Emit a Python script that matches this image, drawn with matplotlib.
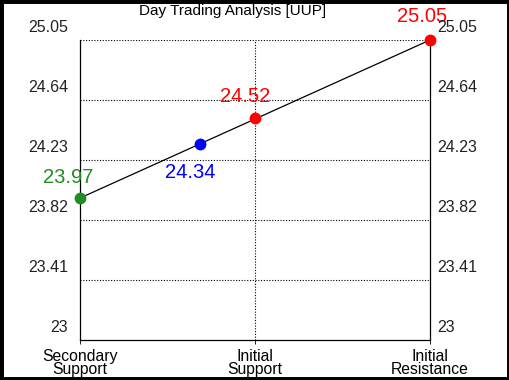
import numpy as np
import matplotlib
matplotlib.use("Agg")
import matplotlib.pyplot as plt
from matplotlib.patches import Rectangle
import matplotlib.transforms as mtrans

plt.rcParams['font.family'] = ['Liberation Sans', 'DejaVu Sans']

title = "Day Trading Analysis [UUP]"
categories = ["Secondary\nSupport", "Initial\nSupport", "Initial\nResistance"]
ytick_labels = ["23", "23.41", "23.82", "24.23", "24.64", "25.05"]
ytick_values = [23.0, 23.41, 23.82, 24.23, 24.64, 25.05]
secondary_support = 23.97
pivot = 24.34
initial_support = 24.52
initial_resistance = 25.05

fig = plt.figure(figsize=(5.1, 3.8), dpi=100)
fig.patch.set_facecolor('white')
ax = fig.add_axes([80/510, 40/380, 350/510, 300/380])

x_cat = np.arange(len(categories))
ax.plot([x_cat[0], x_cat[2]], [secondary_support, initial_resistance], color='black', lw=0.9, zorder=3)
pivot_x = np.interp(pivot, [secondary_support, initial_resistance], [x_cat[0], x_cat[2]])

pts = [
    (x_cat[0], secondary_support, '#228B22', (-12, 21)),
    (pivot_x, pivot, '#0000FF', (-10, -29)),
    (x_cat[1], initial_support, '#FF0000', (-10, 21)),
    (x_cat[2], initial_resistance, '#FF0000', (-8, 24)),
]
for x, y, c, (dx, dy) in pts:
    ax.plot([x], [y], 'o', color=c, ms=7.5, zorder=4, clip_on=False)
    ax.annotate(f"{y:.2f}", (x, y), xytext=(dx * 0.72, dy * 0.72), textcoords='offset points',
                ha='center', va='center', color=c, fontsize=14.5)

ax.set_xlim(x_cat[0], x_cat[2])
ax.set_ylim(ytick_values[0], ytick_values[-1])

for yv in ytick_values[1:]:
    ax.axhline(yv, color='black', lw=0.8, ls=(0, (1, 1.5)), zorder=1)
ax.axvline(x_cat[1], color='black', lw=0.8, ls=(0, (1, 1.5)), zorder=1)

ax.set_yticks([])
ax.set_xticks(x_cat)
ax.set_xticklabels(categories, fontsize=11.3, linespacing=0.85)
ax.tick_params(axis='x', length=3, width=0.6, pad=3.5)
ax.spines['top'].set_visible(False)
for s in ['left', 'right', 'bottom']:
    ax.spines[s].set_linewidth(0.9)

off_l = mtrans.ScaledTranslation(-12/100, 12/100, fig.dpi_scale_trans)
off_r = mtrans.ScaledTranslation(7/100, 12/100, fig.dpi_scale_trans)
for yv, lab in zip(ytick_values, ytick_labels):
    ax.text(0, yv, lab, transform=ax.get_yaxis_transform() + off_l, ha='right', va='center', fontsize=11.5, color='#222222')
    ax.text(1, yv, lab, transform=ax.get_yaxis_transform() + off_r, ha='left', va='center', fontsize=11.5, color='#222222')

fig.text(233/510, 1 - 11/380, title, ha='center', va='center', fontsize=11, color='black')

fig.patches.append(Rectangle((0, 0), 1, 1, transform=fig.transFigure, fill=False,
                             ec='black', lw=5, zorder=10))

fig.savefig("out.png", dpi=100)
